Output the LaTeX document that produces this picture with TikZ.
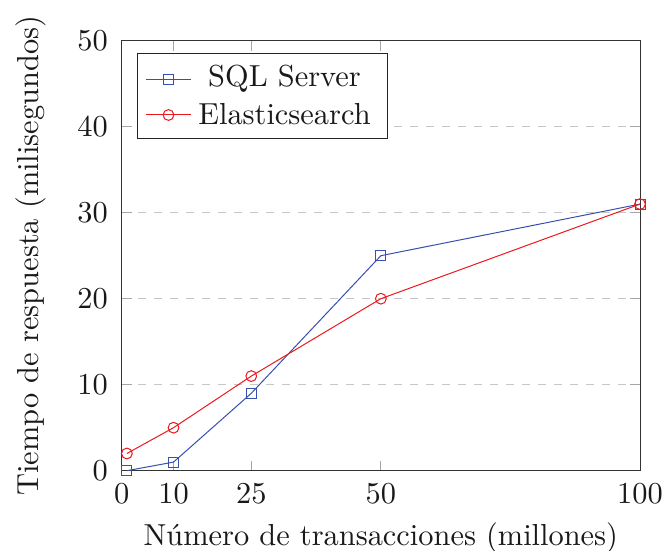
\documentclass[tikz,border=0pt]{standalone}
\usepackage{fontspec}
\setmainfont{lmroman10-regular}[Extension=.otf]
\usepackage{tikz}
\definecolor{sqlblue}{RGB}{55,80,175}
\definecolor{esred}{RGB}{235,25,30}
\tikzset{
  frame/.style  ={draw=black!80,line width=0.5pt},
  gridln/.style ={draw=black!22,line width=0.5pt,dash pattern=on 4pt off 4pt},
  tickln/.style ={draw=black!35,line width=0.5pt},
  serSql/.style ={draw=sqlblue,line width=0.5pt},
  serEs/.style  ={draw=esred,line width=0.5pt},
  mkSq/.style   ={rectangle,draw=sqlblue,line width=0.5pt,minimum size=5pt,
                  inner sep=0pt},
  mkCi/.style   ={circle,draw=esred,line width=0.5pt,minimum size=5.4pt,
                  inner sep=0pt},
  tlab/.style   ={inner sep=0pt,text=black!90},
}

\begin{document}
\begin{tikzpicture}[x=0.5pt,y=0.5pt,font=\fontsize{15.2}{18.2}\selectfont]
\useasboundingbox (0,0) rectangle (664,551);

\begin{scope}[shift={(121.7,80.3)},x=2.5915pt,y=4.3pt]
  \coordinate (org) at (0,0);
  \coordinate (tr)  at (100,50);

  % grid
  \foreach \y in {10,20,30,40}
    \draw[gridln] (0,\y) -- (100,\y);

  % ticks on all four sides
  \foreach \x in {10,25,50}{
    \draw[tickln] (\x,0) -- ++(0pt,5pt);
    \draw[tickln] (\x,50) -- ++(0pt,-5pt);
  }
  \foreach \y in {10,20,30,40}{
    \draw[tickln] (0,\y) -- ++(5pt,0pt);
    \draw[tickln] (100,\y) -- ++(-5pt,0pt);
  }

  \draw[frame] (org) rectangle (tr);

  % tick labels
  \foreach \x in {0,10,25,50,100}
    \node[tlab,anchor=north] (xl\x) at ([yshift=-6pt]\x,0) {\x};
  \foreach \y in {0,10,...,50}
    \node[tlab,anchor=east] (yl\y) at ([xshift=-6.8pt]0,\y) {\y};

  % axis labels
  \node[tlab,anchor=base] (xlab) at ([yshift=-37.5pt]50,0)
       {Número de transacciones (millones)};
  \node[tlab,anchor=base,rotate=90] (ylab) at ([xshift=-41.8pt]0,25)
       {Tiempo de respuesta (milisegundos)};

  % data points
  \foreach \i/\x/\s/\e in {1/1/0/2, 2/10/1/5, 3/25/9/11, 4/50/25/20, 5/100/31/31}{
    \coordinate (s\i) at (\x,\s);
    \coordinate (e\i) at (\x,\e);
  }

  \draw[serSql] (s1) -- (s2) -- (s3) -- (s4) -- (s5);
  \foreach \i in {1,...,5}
    \node[mkSq] (ms\i) at (s\i) {};

  \draw[serEs] (e1) -- (e2) -- (e3) -- (e4) -- (e5);
  \foreach \i in {1,...,5}
    \node[mkCi] (me\i) at (e\i) {};
\end{scope}

%% legend
\node[draw=black!85,line width=0.5pt,fill=white,minimum width=125pt,
      minimum height=42.2pt,inner sep=0pt] (leg) at (262.3,454.9) {};
\coordinate (la1) at (146,471.7);
\coordinate (lb1) at (191,471.7);
\coordinate (la2) at (146,436);
\coordinate (lb2) at (191,436);
\draw[serSql] (la1) -- (lb1);
\node[mkSq] (lm1) at (168.5,471.7) {};
\draw[serEs] (la2) -- (lb2);
\node[mkCi] (lm2) at (168.5,436) {};
\node[tlab,anchor=base] (lt1) at (284.5,464.3) {SQL Server};
\node[tlab,anchor=base] (lt2) at (284.5,426.5) {Elasticsearch};

\end{tikzpicture}
\end{document}
